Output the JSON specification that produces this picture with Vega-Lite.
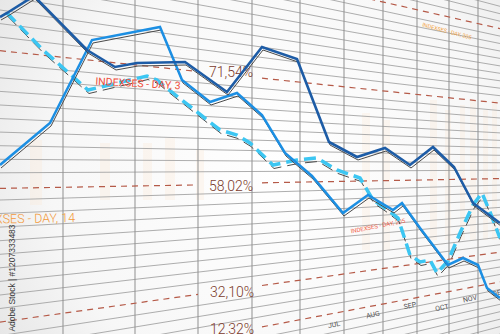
{
  "$schema": "https://vega.github.io/schema/vega-lite/v6.json",
  "width": 500,
  "height": 334,
  "padding": 0,
  "autosize": {"type": "none"},
  "config": {
    "view": {
      "stroke": null,
      "fill": {"gradient": "radial", "x1": 0.55, "y1": 0.5, "r1": 0, "x2": 0.55, "y2": 0.5, "r2": 0.75,
        "stops": [{"offset": 0, "color": "#ffffff"}, {"offset": 0.6, "color": "#f7f7f7"}, {"offset": 1, "color": "#dedede"}]}
    },
    "text": {"font": "Roboto"}
  },
  "datasets": {
    "grid": [
      {"y0": -125.7, "y1": 6.3}, {"y0": -112.1, "y1": 13.7}, {"y0": -98.6, "y1": 21.2},
      {"y0": -71.4, "y1": 36.1}, {"y0": -57.9, "y1": 43.5}, {"y0": -44.3, "y1": 51.0}, {"y0": -30.7, "y1": 58.4},
      {"y0": -17.2, "y1": 65.9}, {"y0": -3.6, "y1": 73.3}, {"y0": 10.0, "y1": 80.8}, {"y0": 23.6, "y1": 88.2},
      {"y0": 37.1, "y1": 95.7}, {"y0": 64.3, "y1": 110.6}, {"y0": 77.8, "y1": 118.0}, {"y0": 91.4, "y1": 125.5},
      {"y0": 105.0, "y1": 132.9}, {"y0": 118.6, "y1": 140.4}, {"y0": 132.1, "y1": 147.8}, {"y0": 145.7, "y1": 155.3},
      {"y0": 159.3, "y1": 162.7}, {"y0": 172.8, "y1": 170.2}, {"y0": 200.0, "y1": 185.1}, {"y0": 213.5, "y1": 192.5},
      {"y0": 227.1, "y1": 200.0}, {"y0": 240.7, "y1": 207.4}, {"y0": 254.3, "y1": 214.9}, {"y0": 267.8, "y1": 222.3},
      {"y0": 281.4, "y1": 229.8}, {"y0": 295.0, "y1": 237.2}, {"y0": 308.5, "y1": 244.7}, {"y0": 335.7, "y1": 259.6},
      {"y0": 349.2, "y1": 267.0}, {"y0": 362.8, "y1": 274.5}, {"y0": 390.0, "y1": 289.4}, {"y0": 403.5, "y1": 296.8},
      {"y0": 417.1, "y1": 304.3}, {"y0": 430.7, "y1": 311.7}, {"y0": 444.2, "y1": 319.2}, {"y0": 457.8, "y1": 326.6},
      {"y0": 471.4, "y1": 334.1}
    ],
    "verticals": [
      {"x": 63}, {"x": 135}, {"x": 198}, {"x": 252}, {"x": 300}, {"x": 344}, {"x": 383}, {"x": 417}, {"x": 449}, {"x": 478}
    ],
    "reddash": [
      {"xa": 262, "ya": -25.5, "xb": 500, "yb": 28.6},
      {"xa": 0, "ya": 50.7, "xb": 198, "yb": 71.5},
      {"xa": 262, "ya": 78.2, "xb": 500, "yb": 103.1},
      {"xa": 0, "ya": 188.4, "xb": 198, "yb": 184.9},
      {"xa": 262, "ya": 182.8, "xb": 500, "yb": 178.6},
      {"xa": 0, "ya": 322.1, "xb": 198, "yb": 294.4},
      {"xa": 262, "ya": 285.5, "xb": 500, "yb": 252.1},
      {"xa": 0, "ya": 376.4, "xb": 198, "yb": 339.0},
      {"xa": 262, "ya": 326.9, "xb": 500, "yb": 281.9}
    ],
    "bars": [
      {"xa": 30, "xb": 42, "ya": 140, "yb": 205},
      {"xa": 100, "xb": 110, "ya": 143, "yb": 200},
      {"xa": 143, "xb": 152, "ya": 143, "yb": 200},
      {"xa": 165, "xb": 175, "ya": 138, "yb": 200},
      {"xa": 196, "xb": 204, "ya": 150, "yb": 200},
      {"xa": 362, "xb": 370, "ya": 113, "yb": 250},
      {"xa": 383, "xb": 390, "ya": 120, "yb": 250},
      {"xa": 430, "xb": 437, "ya": 100, "yb": 240},
      {"xa": 445, "xb": 451, "ya": 110, "yb": 240},
      {"xa": 460, "xb": 465, "ya": 105, "yb": 240},
      {"xa": 470, "xb": 476, "ya": 100, "yb": 240},
      {"xa": 483, "xb": 488, "ya": 110, "yb": 240},
      {"xa": 492, "xb": 497, "ya": 100, "yb": 240}
    ],
    "dark": [
      {"x": 0, "y": 17}, {"x": 7, "y": 13}, {"x": 34, "y": -4}, {"x": 87, "y": 50}, {"x": 115, "y": 67},
      {"x": 137, "y": 63}, {"x": 185, "y": 62}, {"x": 227, "y": 92}, {"x": 262, "y": 47}, {"x": 297, "y": 59},
      {"x": 329, "y": 142}, {"x": 357, "y": 157}, {"x": 385, "y": 148}, {"x": 410, "y": 165}, {"x": 433, "y": 147},
      {"x": 454, "y": 167}, {"x": 473, "y": 203}, {"x": 500, "y": 223}
    ],
    "mid": [
      {"x": 0, "y": 165}, {"x": 50, "y": 123}, {"x": 92, "y": 40}, {"x": 160, "y": 27}, {"x": 182, "y": 80},
      {"x": 210, "y": 102}, {"x": 237, "y": 93}, {"x": 262, "y": 115}, {"x": 285, "y": 153}, {"x": 312, "y": 176},
      {"x": 343, "y": 213}, {"x": 368, "y": 195}, {"x": 393, "y": 210}, {"x": 402, "y": 203}, {"x": 420, "y": 228},
      {"x": 448, "y": 265}, {"x": 463, "y": 258}, {"x": 478, "y": 265}, {"x": 487, "y": 288}, {"x": 500, "y": 298}
    ],
    "dash": [
      {"x": 7, "y": 13}, {"x": 43, "y": 50}, {"x": 88, "y": 90}, {"x": 147, "y": 76}, {"x": 157, "y": 80},
      {"x": 173, "y": 93}, {"x": 220, "y": 130}, {"x": 237, "y": 135}, {"x": 250, "y": 143}, {"x": 273, "y": 165},
      {"x": 297, "y": 160}, {"x": 317, "y": 158}, {"x": 337, "y": 170}, {"x": 360, "y": 178}, {"x": 373, "y": 200},
      {"x": 385, "y": 208}, {"x": 398, "y": 218}, {"x": 410, "y": 255}, {"x": 420, "y": 262}, {"x": 430, "y": 260},
      {"x": 437, "y": 273}, {"x": 448, "y": 261}, {"x": 460, "y": 233}, {"x": 473, "y": 205}, {"x": 482, "y": 193},
      {"x": 490, "y": 212}, {"x": 500, "y": 238}
    ]
  },
  "layer": [
    {
      "data": {"name": "bars"},
      "mark": {"type": "rect", "color": "#fbe6d2", "opacity": 0.28, "clip": true},
      "encoding": {
        "x": {"field": "xa", "type": "quantitative", "scale": {"domain": [0, 500]}, "axis": null},
        "x2": {"field": "xb"},
        "y": {"field": "ya", "type": "quantitative", "scale": {"domain": [0, 334], "reverse": true}, "axis": null},
        "y2": {"field": "yb"}
      }
    },
    {
      "data": {"name": "grid"},
      "mark": {"type": "rule", "color": "#a4a4a4", "strokeWidth": 0.9, "clip": true},
      "encoding": {
        "x": {"datum": 0, "type": "quantitative", "scale": {"domain": [0, 500]}, "axis": null},
        "x2": {"datum": 500},
        "y": {"field": "y0", "type": "quantitative", "scale": {"domain": [0, 334], "reverse": true}, "axis": null},
        "y2": {"field": "y1"}
      }
    },
    {
      "data": {"name": "verticals"},
      "mark": {"type": "rule", "color": "#8f8f8f", "strokeWidth": 1, "clip": true},
      "encoding": {
        "x": {"field": "x", "type": "quantitative", "scale": {"domain": [0, 500]}, "axis": null},
        "y": {"datum": 0, "type": "quantitative", "scale": {"domain": [0, 334], "reverse": true}, "axis": null},
        "y2": {"datum": 334}
      }
    },
    {
      "data": {"name": "reddash"},
      "mark": {"type": "rule", "color": "#b55a48", "strokeWidth": 1.2, "strokeDash": [6, 5], "clip": true},
      "encoding": {
        "x": {"field": "xa", "type": "quantitative", "scale": {"domain": [0, 500]}, "axis": null},
        "x2": {"field": "xb"},
        "y": {"field": "ya", "type": "quantitative", "scale": {"domain": [0, 334], "reverse": true}, "axis": null},
        "y2": {"field": "yb"}
      }
    },
    {
      "data": {"values": [
        {"x": 231, "y": 73, "t": "71,54%"},
        {"x": 231, "y": 187, "t": "58,02%"},
        {"x": 232, "y": 293, "t": "32,10%"},
        {"x": 232, "y": 330, "t": "12,32%"}
      ]},
      "mark": {"type": "text", "font": "Roboto", "fontWeight": 300, "fontSize": 14, "color": "#7c3a2c", "align": "center", "baseline": "middle"},
      "encoding": {
        "x": {"field": "x", "type": "quantitative", "scale": {"domain": [0, 500]}, "axis": null},
        "y": {"field": "y", "type": "quantitative", "scale": {"domain": [0, 334], "reverse": true}, "axis": null},
        "text": {"field": "t"}
      }
    },
    {
      "data": {"values": [{"x": 75, "y": 218, "t": "INDEXSES - DAY, 14"}]},
      "mark": {"type": "text", "font": "Roboto", "fontWeight": 300, "fontSize": 12.5, "color": "#f39a3a", "align": "right", "baseline": "middle", "angle": -1},
      "encoding": {
        "x": {"field": "x", "type": "quantitative", "scale": {"domain": [0, 500]}, "axis": null},
        "y": {"field": "y", "type": "quantitative", "scale": {"domain": [0, 334], "reverse": true}, "axis": null},
        "text": {"field": "t"}
      }
    },
    {
      "data": {"values": [{"x": 447, "y": 31, "t": "INDEXSES - DAY, 205"}]},
      "mark": {"type": "text", "font": "Roboto", "fontSize": 5.5, "color": "#f2a444", "align": "center", "baseline": "middle", "angle": 15},
      "encoding": {
        "x": {"field": "x", "type": "quantitative", "scale": {"domain": [0, 500]}, "axis": null},
        "y": {"field": "y", "type": "quantitative", "scale": {"domain": [0, 334], "reverse": true}, "axis": null},
        "text": {"field": "t"}
      }
    },
    {
      "data": {"values": [{"x": 378, "y": 226, "t": "INDEXSES - DAY, 205"}]},
      "mark": {"type": "text", "font": "Roboto", "fontSize": 6, "color": "#f0644c", "align": "center", "baseline": "middle", "angle": -11},
      "encoding": {
        "x": {"field": "x", "type": "quantitative", "scale": {"domain": [0, 500]}, "axis": null},
        "y": {"field": "y", "type": "quantitative", "scale": {"domain": [0, 334], "reverse": true}, "axis": null},
        "text": {"field": "t"}
      }
    },
    {
      "data": {"values": [
        {"x": 334, "y": 325, "t": "JUL"}, {"x": 373, "y": 315, "t": "AUG"}, {"x": 410, "y": 306, "t": "SEP"},
        {"x": 442, "y": 308, "t": "OCT"}, {"x": 470, "y": 299, "t": "NOV"}, {"x": 499, "y": 293, "t": "DEC"}
      ]},
      "mark": {"type": "text", "font": "Roboto", "fontSize": 7, "color": "#555555", "align": "center", "baseline": "middle", "angle": -12},
      "encoding": {
        "x": {"field": "x", "type": "quantitative", "scale": {"domain": [0, 500]}, "axis": null},
        "y": {"field": "y", "type": "quantitative", "scale": {"domain": [0, 334], "reverse": true}, "axis": null},
        "text": {"field": "t"}
      }
    },
    {
      "data": {"values": [{"x": 12, "y": 278, "t": "Adobe Stock | #1207333483"}]},
      "mark": {"type": "text", "font": "Liberation Sans", "fontSize": 8.5, "color": "#3a3a3a", "align": "center", "baseline": "middle", "angle": -90},
      "encoding": {
        "x": {"field": "x", "type": "quantitative", "scale": {"domain": [0, 500]}, "axis": null},
        "y": {"field": "y", "type": "quantitative", "scale": {"domain": [0, 334], "reverse": true}, "axis": null},
        "text": {"field": "t"}
      }
    },
    {
      "data": {"name": "dash"},
      "mark": {"type": "line", "color": "#4a4a4a", "strokeWidth": 1, "strokeDash": [12, 6], "yOffset": 3.5, "xOffset": 1, "clip": true},
      "encoding": {
        "x": {"field": "x", "type": "quantitative", "scale": {"domain": [0, 500]}, "axis": null},
        "y": {"field": "y", "type": "quantitative", "scale": {"domain": [0, 334], "reverse": true}, "axis": null}
      }
    },
    {
      "data": {"name": "dash"},
      "mark": {"type": "line", "color": "#3cc6f2", "strokeWidth": 3.5, "strokeDash": [12, 6], "clip": true},
      "encoding": {
        "x": {"field": "x", "type": "quantitative", "scale": {"domain": [0, 500]}, "axis": null},
        "y": {"field": "y", "type": "quantitative", "scale": {"domain": [0, 334], "reverse": true}, "axis": null}
      }
    },
    {
      "data": {"values": [{"x": 138, "y": 84, "t": "INDEXSES - DAY, 3"}]},
      "mark": {"type": "text", "font": "Roboto", "fontWeight": 400, "fontSize": 10.5, "color": "#ef4f3c", "align": "center", "baseline": "middle", "angle": 3},
      "encoding": {
        "x": {"field": "x", "type": "quantitative", "scale": {"domain": [0, 500]}, "axis": null},
        "y": {"field": "y", "type": "quantitative", "scale": {"domain": [0, 334], "reverse": true}, "axis": null},
        "text": {"field": "t"}
      }
    },
    {
      "data": {"name": "mid"},
      "mark": {"type": "line", "color": "#4a4a4a", "strokeWidth": 1, "yOffset": 3, "xOffset": 1, "clip": true},
      "encoding": {
        "x": {"field": "x", "type": "quantitative", "scale": {"domain": [0, 500]}, "axis": null},
        "y": {"field": "y", "type": "quantitative", "scale": {"domain": [0, 334], "reverse": true}, "axis": null}
      }
    },
    {
      "data": {"name": "mid"},
      "mark": {"type": "line", "color": "#1c8fe3", "strokeWidth": 2.5, "clip": true},
      "encoding": {
        "x": {"field": "x", "type": "quantitative", "scale": {"domain": [0, 500]}, "axis": null},
        "y": {"field": "y", "type": "quantitative", "scale": {"domain": [0, 334], "reverse": true}, "axis": null}
      }
    },
    {
      "data": {"name": "dark"},
      "mark": {"type": "line", "color": "#4a4a4a", "strokeWidth": 1, "yOffset": 3, "xOffset": 1, "clip": true},
      "encoding": {
        "x": {"field": "x", "type": "quantitative", "scale": {"domain": [0, 500]}, "axis": null},
        "y": {"field": "y", "type": "quantitative", "scale": {"domain": [0, 334], "reverse": true}, "axis": null}
      }
    },
    {
      "data": {"name": "dark"},
      "mark": {"type": "line", "color": "#1d5ca6", "strokeWidth": 2.6, "clip": true},
      "encoding": {
        "x": {"field": "x", "type": "quantitative", "scale": {"domain": [0, 500]}, "axis": null},
        "y": {"field": "y", "type": "quantitative", "scale": {"domain": [0, 334], "reverse": true}, "axis": null}
      }
    }
  ]
}
